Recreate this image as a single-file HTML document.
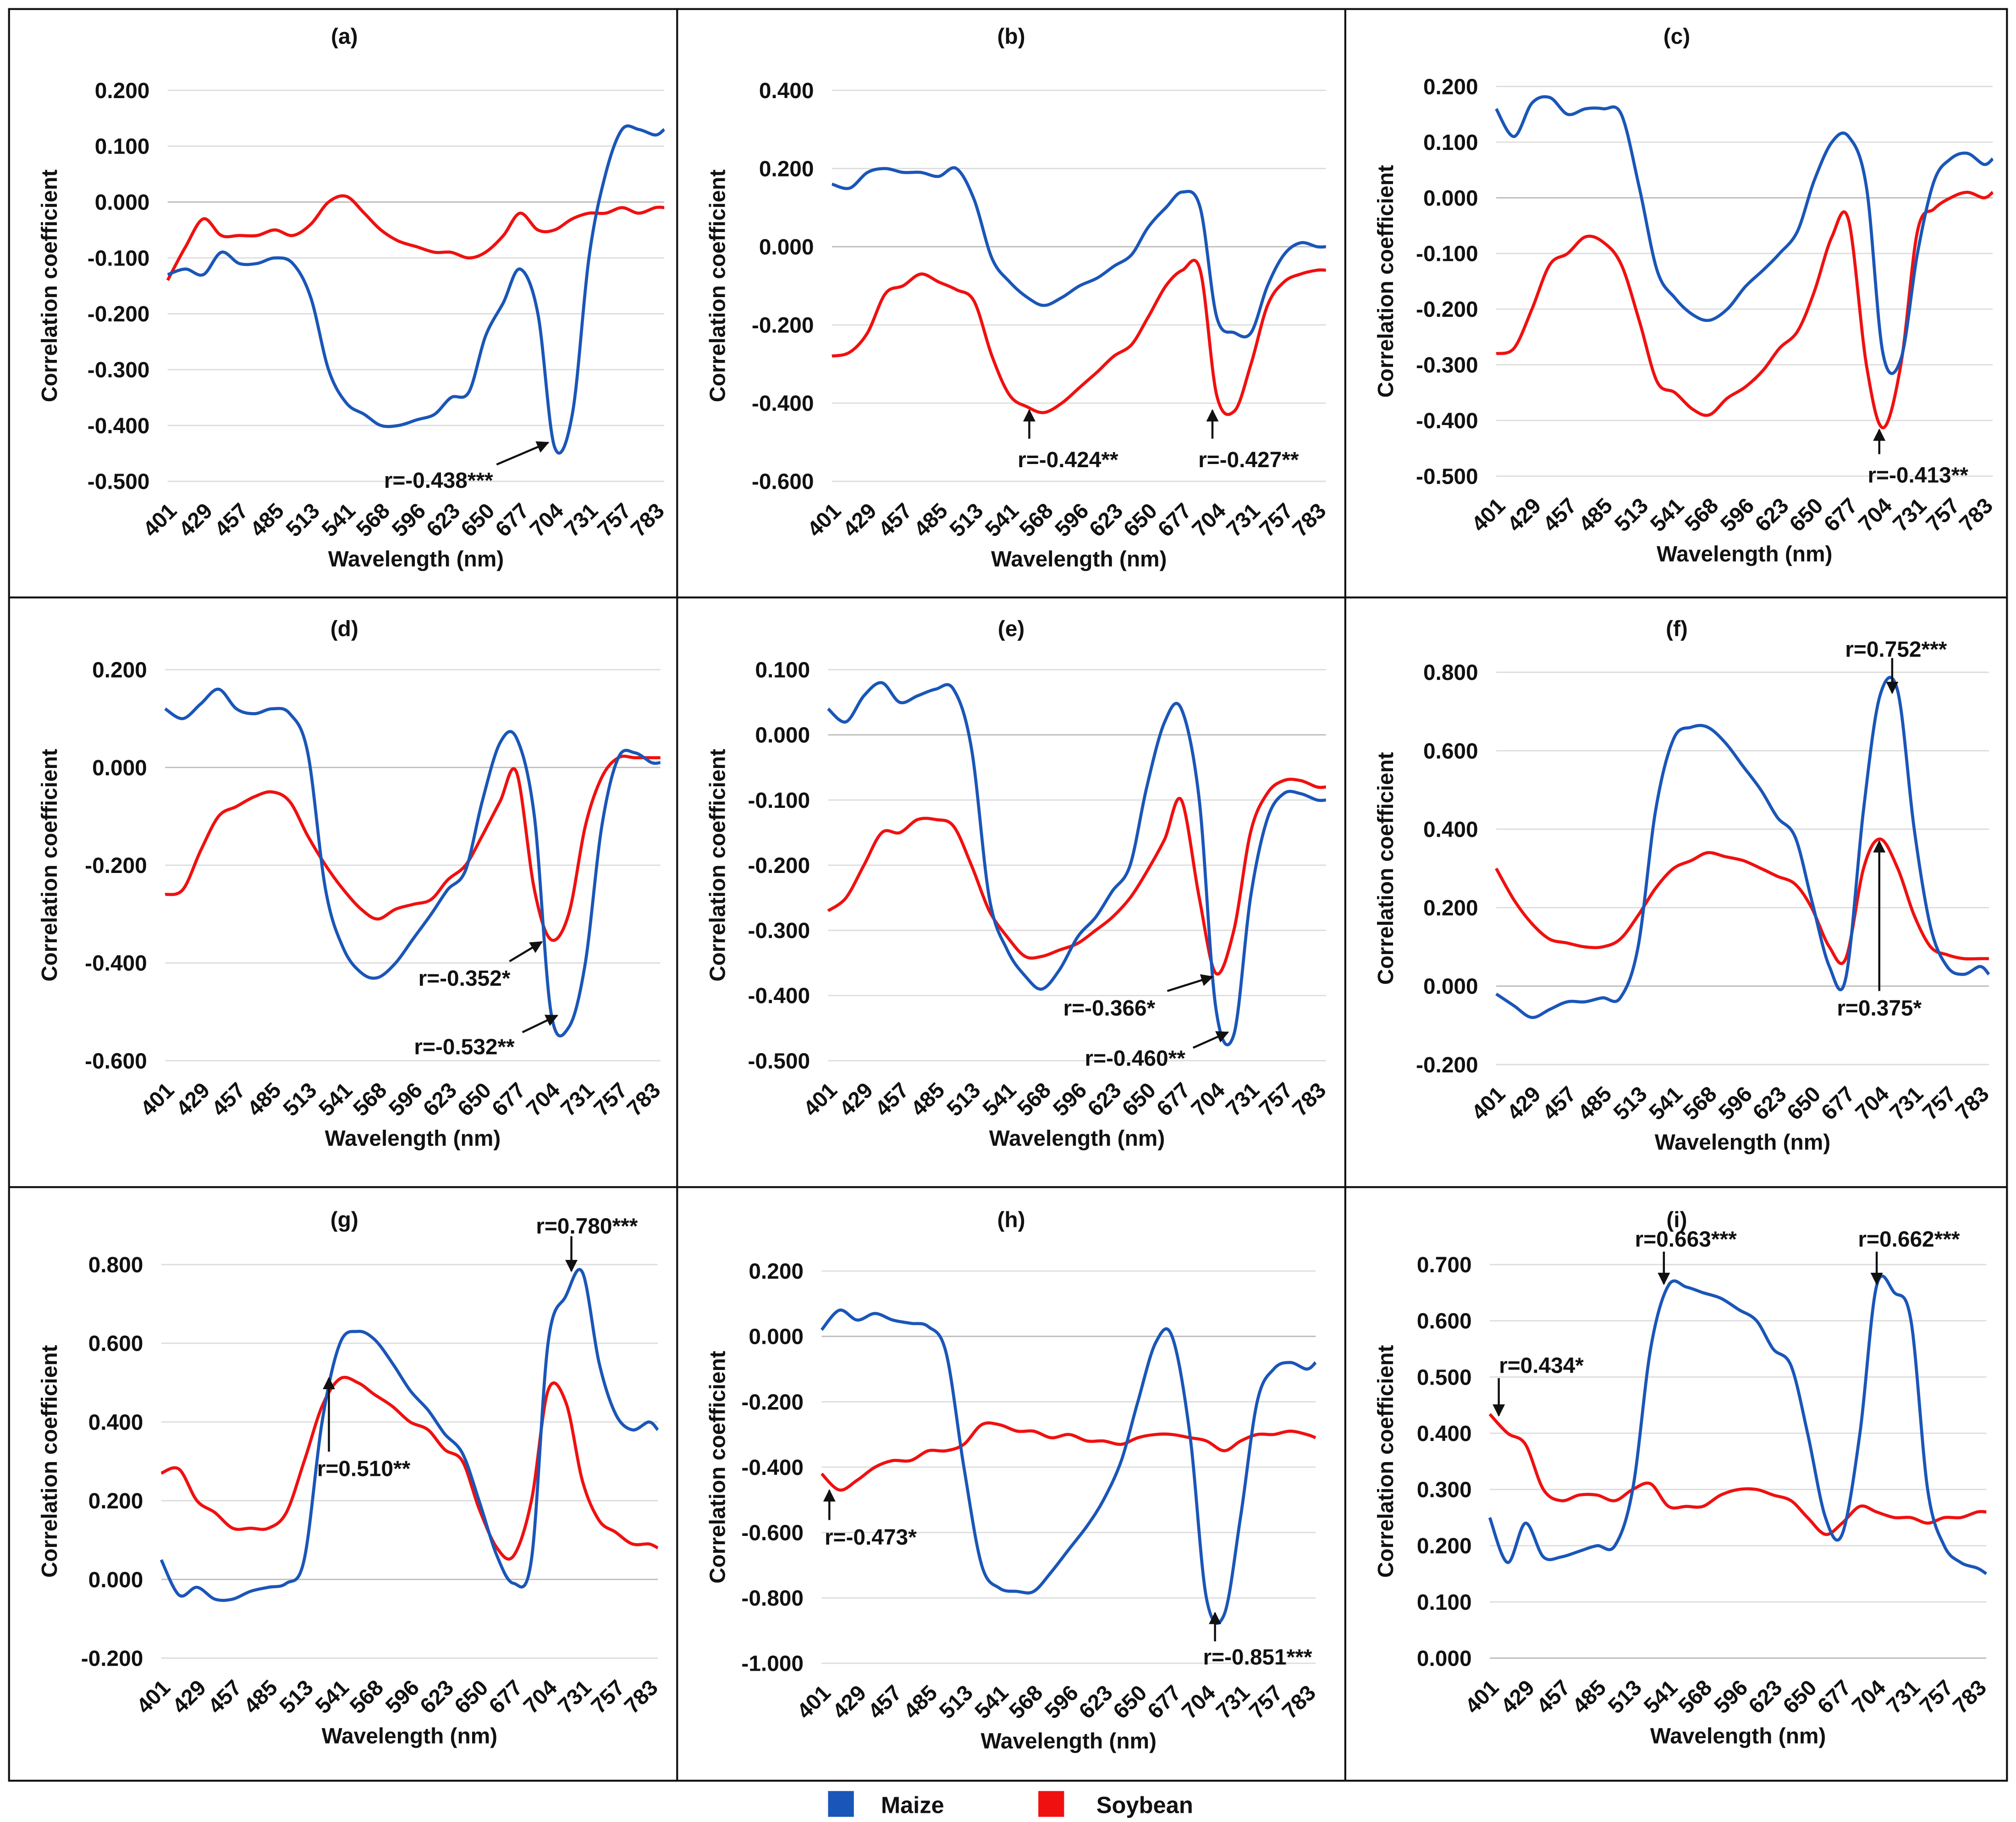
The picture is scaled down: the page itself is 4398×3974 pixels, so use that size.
<!DOCTYPE html>
<html><head><meta charset="utf-8">
<style>
html,body{margin:0;padding:0;background:#fff;}
svg{display:block;}
text{font-family:"Liberation Sans",sans-serif;font-weight:bold;fill:#111;}
</style></head>
<body>
<svg id="fig" width="4398" height="3974" viewBox="0 0 1563 1412" preserveAspectRatio="none" xmlns="http://www.w3.org/2000/svg">
<defs>
<marker id="ah" viewBox="0 0 10 10" refX="9" refY="5" markerWidth="6" markerHeight="6" orient="auto-start-reverse">
<path d="M0,0 L10,5 L0,10 z" fill="#111"/>
</marker>
</defs>
<rect x="7" y="7" width="1549" height="1373" fill="none" stroke="#111" stroke-width="1.5"/>
<line x1="525" y1="7" x2="525" y2="1380" stroke="#111" stroke-width="1.5"/>
<line x1="1043" y1="7" x2="1043" y2="1380" stroke="#111" stroke-width="1.5"/>
<line x1="7" y1="463" x2="1556" y2="463" stroke="#111" stroke-width="1.5"/>
<line x1="7" y1="920" x2="1556" y2="920" stroke="#111" stroke-width="1.5"/>
<g id="panels"></g>
<g>
<rect x="642" y="1388" width="20" height="20" fill="#1a56b8"/>
<text x="683" y="1405" font-size="18">Maize</text>
<rect x="805" y="1388" width="20" height="20" fill="#f01010"/>
<text x="850" y="1405" font-size="18">Soybean</text>
</g>
</svg>
<script>
const wavelengths=[401,415,429,443,457,471,485,499,513,527,541,555,568,582,596,610,623,637,650,664,677,691,704,718,731,744,757,770,783,790];
const xTickLabels=["401","429","457","485","513","541","568","596","623","650","677","704","731","757","783"];
const maizeA=[-0.13,-0.12,-0.13,-0.09,-0.11,-0.11,-0.10,-0.11,-0.17,-0.30,-0.36,-0.38,-0.40,-0.40,-0.39,-0.38,-0.35,-0.34,-0.24,-0.18,-0.12,-0.20,-0.438,-0.38,-0.10,0.05,0.13,0.13,0.12,0.13];
const soyA=[-0.14,-0.08,-0.03,-0.06,-0.06,-0.06,-0.05,-0.06,-0.04,0.00,0.01,-0.02,-0.05,-0.07,-0.08,-0.09,-0.09,-0.10,-0.09,-0.06,-0.02,-0.05,-0.05,-0.03,-0.02,-0.02,-0.01,-0.02,-0.01,-0.01];
const maizeB=[0.16,0.15,0.19,0.20,0.19,0.19,0.18,0.20,0.12,-0.03,-0.09,-0.13,-0.15,-0.13,-0.10,-0.08,-0.05,-0.02,0.05,0.10,0.14,0.10,-0.18,-0.22,-0.22,-0.10,-0.02,0.01,0.00,0.00];
const soyB=[-0.28,-0.27,-0.22,-0.12,-0.10,-0.07,-0.09,-0.11,-0.14,-0.28,-0.38,-0.41,-0.424,-0.40,-0.36,-0.32,-0.28,-0.25,-0.18,-0.10,-0.06,-0.06,-0.38,-0.42,-0.30,-0.15,-0.09,-0.07,-0.06,-0.06];
const maizeC=[0.16,0.11,0.17,0.18,0.15,0.16,0.16,0.15,0.02,-0.13,-0.18,-0.21,-0.22,-0.20,-0.16,-0.13,-0.10,-0.06,0.03,0.10,0.11,0.02,-0.28,-0.29,-0.10,0.03,0.07,0.08,0.06,0.07];
const soyC=[-0.28,-0.27,-0.20,-0.12,-0.10,-0.07,-0.08,-0.12,-0.22,-0.33,-0.35,-0.38,-0.39,-0.36,-0.34,-0.31,-0.27,-0.24,-0.17,-0.07,-0.04,-0.30,-0.413,-0.30,-0.06,-0.02,0.00,0.01,0.00,0.01];
const maizeD=[0.12,0.10,0.13,0.16,0.12,0.11,0.12,0.11,0.03,-0.25,-0.37,-0.42,-0.43,-0.40,-0.35,-0.30,-0.25,-0.21,-0.07,0.05,0.06,-0.10,-0.50,-0.532,-0.40,-0.12,0.02,0.03,0.01,0.01];
const soyD=[-0.26,-0.25,-0.17,-0.10,-0.08,-0.06,-0.05,-0.07,-0.14,-0.20,-0.25,-0.29,-0.31,-0.29,-0.28,-0.27,-0.23,-0.20,-0.14,-0.07,-0.01,-0.25,-0.352,-0.30,-0.12,-0.02,0.02,0.02,0.02,0.02];
const maizeE=[0.04,0.02,0.06,0.08,0.05,0.06,0.07,0.07,-0.02,-0.25,-0.33,-0.37,-0.39,-0.36,-0.31,-0.28,-0.24,-0.20,-0.08,0.02,0.04,-0.10,-0.42,-0.46,-0.25,-0.13,-0.09,-0.09,-0.10,-0.10];
const soyE=[-0.27,-0.25,-0.20,-0.15,-0.15,-0.13,-0.13,-0.14,-0.20,-0.27,-0.31,-0.34,-0.34,-0.33,-0.32,-0.30,-0.28,-0.25,-0.21,-0.16,-0.10,-0.25,-0.366,-0.30,-0.15,-0.09,-0.07,-0.07,-0.08,-0.08];
const maizeF=[-0.02,-0.05,-0.08,-0.06,-0.04,-0.04,-0.03,-0.03,0.10,0.45,0.63,0.66,0.66,0.62,0.56,0.50,0.43,0.38,0.22,0.05,0.02,0.45,0.74,0.752,0.40,0.15,0.05,0.03,0.05,0.03];
const soyF=[0.30,0.22,0.16,0.12,0.11,0.10,0.10,0.12,0.18,0.25,0.30,0.32,0.34,0.33,0.32,0.30,0.28,0.26,0.20,0.10,0.07,0.30,0.375,0.30,0.18,0.10,0.08,0.07,0.07,0.07];
const maizeG=[0.05,-0.04,-0.02,-0.05,-0.05,-0.03,-0.02,-0.01,0.05,0.40,0.60,0.63,0.61,0.55,0.48,0.43,0.37,0.32,0.20,0.06,-0.01,0.05,0.60,0.72,0.78,0.55,0.42,0.38,0.40,0.38];
const soyG=[0.27,0.28,0.20,0.17,0.13,0.13,0.13,0.17,0.30,0.44,0.51,0.50,0.47,0.44,0.40,0.38,0.33,0.30,0.18,0.08,0.06,0.20,0.48,0.45,0.25,0.15,0.12,0.09,0.09,0.08];
const maizeH=[0.02,0.08,0.05,0.07,0.05,0.04,0.03,-0.05,-0.40,-0.70,-0.77,-0.78,-0.78,-0.72,-0.65,-0.58,-0.50,-0.38,-0.20,-0.02,0.00,-0.30,-0.80,-0.851,-0.55,-0.20,-0.10,-0.08,-0.10,-0.08];
const soyH=[-0.42,-0.47,-0.44,-0.40,-0.38,-0.38,-0.35,-0.35,-0.33,-0.27,-0.27,-0.29,-0.29,-0.31,-0.30,-0.32,-0.32,-0.33,-0.31,-0.30,-0.30,-0.31,-0.32,-0.35,-0.32,-0.30,-0.30,-0.29,-0.30,-0.31];
const maizeI=[0.25,0.17,0.24,0.18,0.18,0.19,0.20,0.20,0.30,0.55,0.663,0.66,0.65,0.64,0.62,0.60,0.55,0.52,0.40,0.25,0.22,0.40,0.662,0.65,0.60,0.30,0.20,0.17,0.16,0.15];
const soyI=[0.434,0.40,0.38,0.30,0.28,0.29,0.29,0.28,0.30,0.31,0.27,0.27,0.27,0.29,0.30,0.30,0.29,0.28,0.25,0.22,0.24,0.27,0.26,0.25,0.25,0.24,0.25,0.25,0.26,0.26];

const panels=[
 {id:"a",m:maizeA,s:soyA,x0:130,x1:515,vmax:0.2,vmin:-0.5,pt:70,pb:373,step:0.1,col:0,title:28},
 {id:"b",m:maizeB,s:soyB,x0:645,x1:1028,vmax:0.4,vmin:-0.6,pt:70,pb:373,step:0.2,col:1,title:28},
 {id:"c",m:maizeC,s:soyC,x0:1160,x1:1545,vmax:0.2,vmin:-0.5,pt:67,pb:369,step:0.1,col:2,title:28},
 {id:"d",m:maizeD,s:soyD,x0:128,x1:512,vmax:0.2,vmin:-0.6,pt:519,pb:822,step:0.2,col:0,title:487},
 {id:"e",m:maizeE,s:soyE,x0:642,x1:1028,vmax:0.1,vmin:-0.5,pt:519,pb:822,step:0.1,col:1,title:487},
 {id:"f",m:maizeF,s:soyF,x0:1160,x1:1542,vmax:0.8,vmin:-0.2,pt:521,pb:825,step:0.2,col:2,title:487},
 {id:"g",m:maizeG,s:soyG,x0:125,x1:510,vmax:0.8,vmin:-0.2,pt:980,pb:1285,step:0.2,col:0,title:945},
 {id:"h",m:maizeH,s:soyH,x0:637,x1:1020,vmax:0.2,vmin:-1.0,pt:985,pb:1289,step:0.2,col:1,title:945},
 {id:"i",m:maizeI,s:soyI,x0:1155,x1:1540,vmax:0.7,vmin:0.0,pt:980,pb:1285,step:0.1,col:2,title:945}
];
const colLeft=[7,525,1043], colCenter=[267,784,1300];
const annotations={
 a:[["r=-0.438***",340,372,385,360,425,343]],
 b:[["r=-0.424**",828,356,798,340,798,318],["r=-0.427**",968,356,940,340,940,318]],
 c:[["r=-0.413**",1487,368,1457,352,1457,333]],
 d:[["r=-0.352*",360,758,395,745,420,730],["r=-0.532**",360,811,405,800,432,787]],
 e:[["r=-0.366*",860,781,905,768,940,757],["r=-0.460**",880,820,925,812,952,800]],
 f:[["r=0.752***",1470,503,1467,510,1467,537],["r=0.375*",1457,781,1457,768,1457,652]],
 g:[["r=0.780***",455,950,443,958,443,985],["r=0.510**",282,1138,255,1125,255,1068]],
 h:[["r=-0.473*",675,1191,643,1178,643,1155],["r=-0.851***",975,1284,942,1272,942,1250]],
 i:[["r=0.663***",1307,960,1290,970,1290,995],["r=0.662***",1480,960,1455,970,1455,995],["r=0.434*",1195,1058,1162,1068,1162,1097]]
};
const NS="http://www.w3.org/2000/svg";
const root=document.getElementById("panels");
function mk(tag,attrs,parent){const e=document.createElementNS(NS,tag);for(const k in attrs)e.setAttribute(k,attrs[k]);parent.appendChild(e);return e;}
function smooth(pts){let d="M"+pts[0][0].toFixed(1)+","+pts[0][1].toFixed(1);
 for(let i=0;i<pts.length-1;i++){const p0=pts[i-1]||pts[i],p1=pts[i],p2=pts[i+1],p3=pts[i+2]||p2;
  const c1=[p1[0]+(p2[0]-p0[0])/6,p1[1]+(p2[1]-p0[1])/6],c2=[p2[0]-(p3[0]-p1[0])/6,p2[1]-(p3[1]-p1[1])/6];
  d+=" C"+c1[0].toFixed(1)+","+c1[1].toFixed(1)+" "+c2[0].toFixed(1)+","+c2[1].toFixed(1)+" "+p2[0].toFixed(1)+","+p2[1].toFixed(1);}
 return d;}
panels.forEach(p=>{
 const g=mk("g",{},root);
 
 
 const xs=w=>p.x0+(w-401)/(790-401)*(p.x1-p.x0);
 const ys=v=>p.pt+(p.vmax-v)/(p.vmax-p.vmin)*(p.pb-p.pt);
 const t=mk("text",{x:colCenter[p.col],y:p.title+6,"font-size":17,"text-anchor":"middle"},g);
 t.textContent="("+p.id+")";
 
 
 const n=Math.round((p.vmax-p.vmin)/p.step);
 for(let k=0;k<=n;k++){const v=p.vmax-k*p.step,y=ys(v);
  const gl=mk("line",{x1:p.x0,x2:p.x1,y1:y,y2:y,stroke:Math.abs(v)<1e-9?"#bbb":"#ddd","stroke-width":1},g);
  
  
  const tl=mk("text",{x:p.x0-14,y:y+6,"font-size":17,"text-anchor":"end"},g);
  tl.textContent=(Math.abs(v)<1e-9?0:v).toFixed(3);
  
  }
 xTickLabels.forEach(lab=>{const x=xs(+lab),y=p.pb+24;
  const tl=mk("text",{x:x+8,y:y,"font-size":17,"text-anchor":"end",transform:"rotate(-45 "+(x+8)+" "+y+")"},g);
  tl.textContent=lab;
  
  });
 const xt=mk("text",{x:(p.x0+p.x1)/2,y:p.pb+66,"font-size":17,"text-anchor":"middle"},g);
 xt.textContent="Wavelength (nm)";
 
 
 const cy=(p.pt+p.pb)/2,cx=colLeft[p.col]+37;
 const yt=mk("text",{x:cx,y:cy,"font-size":17,"text-anchor":"middle",transform:"rotate(-90 "+cx+" "+cy+")"},g);
 yt.textContent="Correlation coefficient";
 
 
 const sp=mk("path",{d:smooth(wavelengths.map((w,i)=>[xs(w),ys(p.s[i])])),fill:"none",stroke:"#f01010","stroke-width":2.4,"stroke-linejoin":"round"},g);
 
 
 const mp=mk("path",{d:smooth(wavelengths.map((w,i)=>[xs(w),ys(p.m[i])])),fill:"none",stroke:"#1a56b8","stroke-width":2.4,"stroke-linejoin":"round"},g);
 
 
 (annotations[p.id]||[]).forEach(a=>{
  const at=mk("text",{x:a[1],y:a[2]+6,"font-size":17,"text-anchor":"middle"},g);
  at.textContent=a[0];
  
  
  const ar=mk("line",{x1:a[3],y1:a[4],x2:a[5],y2:a[6],stroke:"#111","stroke-width":1.6,"marker-end":"url(#ah)"},g);
  
  });
});
</script>
</body></html>
